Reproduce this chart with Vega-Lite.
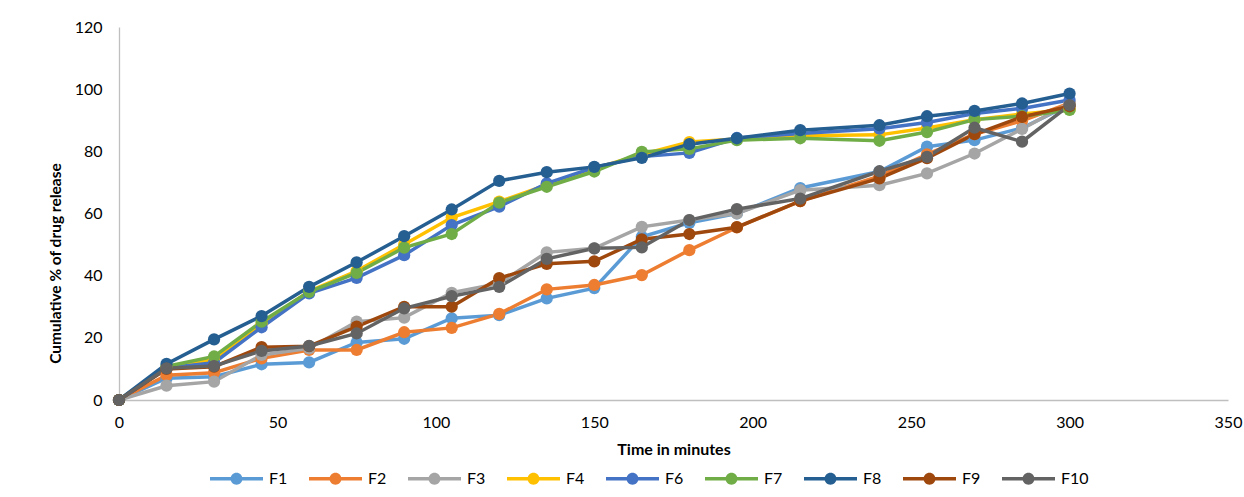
{
  "$schema": "https://vega.github.io/schema/vega-lite/v6.json",
  "autosize": {"type": "none"},
  "width": 1109,
  "height": 373,
  "padding": {"left": 119, "top": 27, "right": 16, "bottom": 97},
  "background": "white",
  "config": {
    "view": {"stroke": null},
    "font": "Lato",
    "axis": {"grid": false, "ticks": false, "labelFlush": false, "domainColor": "#BFBFBF", "domainWidth": 1.3, "labelFont": "Lato", "labelFontSize": 16, "labelColor": "#000000", "titleFont": "Lato", "titleColor": "#000000", "titleFontWeight": "bold"}
  },
  "datasets": {
    "release": [
      {"f":"F1","t":0,"v":0},{"f":"F1","t":15,"v":7},{"f":"F1","t":30,"v":7.5},{"f":"F1","t":45,"v":11.5},{"f":"F1","t":60,"v":12.1},{"f":"F1","t":75,"v":18.5},{"f":"F1","t":90,"v":19.7},{"f":"F1","t":105,"v":26.3},{"f":"F1","t":120,"v":27.3},{"f":"F1","t":135,"v":32.7},{"f":"F1","t":150,"v":36},{"f":"F1","t":165,"v":52.5},{"f":"F1","t":180,"v":57},{"f":"F1","t":195,"v":60},{"f":"F1","t":215,"v":68.2},{"f":"F1","t":240,"v":73.5},{"f":"F1","t":255,"v":81.5},{"f":"F1","t":270,"v":83.6},{"f":"F1","t":285,"v":87.5},{"f":"F1","t":300,"v":95},
      {"f":"F2","t":0,"v":0},{"f":"F2","t":15,"v":8},{"f":"F2","t":30,"v":8.8},{"f":"F2","t":45,"v":13.4},{"f":"F2","t":60,"v":16.1},{"f":"F2","t":75,"v":16.1},{"f":"F2","t":90,"v":21.8},{"f":"F2","t":105,"v":23.2},{"f":"F2","t":120,"v":27.7},{"f":"F2","t":135,"v":35.6},{"f":"F2","t":150,"v":37},{"f":"F2","t":165,"v":40.2},{"f":"F2","t":180,"v":48.2},{"f":"F2","t":195,"v":55.5},{"f":"F2","t":215,"v":64},{"f":"F2","t":240,"v":72},{"f":"F2","t":255,"v":79},{"f":"F2","t":270,"v":85.5},{"f":"F2","t":285,"v":89.8},{"f":"F2","t":300,"v":95.5},
      {"f":"F3","t":0,"v":0},{"f":"F3","t":15,"v":4.6},{"f":"F3","t":30,"v":5.9},{"f":"F3","t":45,"v":14.5},{"f":"F3","t":60,"v":16.6},{"f":"F3","t":75,"v":25.2},{"f":"F3","t":90,"v":26.5},{"f":"F3","t":105,"v":34.5},{"f":"F3","t":120,"v":37.5},{"f":"F3","t":135,"v":47.5},{"f":"F3","t":150,"v":48.8},{"f":"F3","t":165,"v":55.7},{"f":"F3","t":180,"v":57.9},{"f":"F3","t":195,"v":60},{"f":"F3","t":215,"v":67.5},{"f":"F3","t":240,"v":69.1},{"f":"F3","t":255,"v":72.9},{"f":"F3","t":270,"v":79.3},{"f":"F3","t":285,"v":87.2},{"f":"F3","t":300,"v":95.5},
      {"f":"F4","t":0,"v":0},{"f":"F4","t":15,"v":10.5},{"f":"F4","t":30,"v":13},{"f":"F4","t":45,"v":24.5},{"f":"F4","t":60,"v":35},{"f":"F4","t":75,"v":41.5},{"f":"F4","t":90,"v":50},{"f":"F4","t":105,"v":58.7},{"f":"F4","t":120,"v":63.8},{"f":"F4","t":135,"v":69.2},{"f":"F4","t":150,"v":74.5},{"f":"F4","t":165,"v":79},{"f":"F4","t":180,"v":83},{"f":"F4","t":195,"v":84},{"f":"F4","t":215,"v":85},{"f":"F4","t":240,"v":85.3},{"f":"F4","t":255,"v":87.5},{"f":"F4","t":270,"v":90.2},{"f":"F4","t":285,"v":92},{"f":"F4","t":300,"v":93.5},
      {"f":"F6","t":0,"v":0},{"f":"F6","t":15,"v":10.3},{"f":"F6","t":30,"v":12},{"f":"F6","t":45,"v":23.4},{"f":"F6","t":60,"v":34.3},{"f":"F6","t":75,"v":39.3},{"f":"F6","t":90,"v":46.6},{"f":"F6","t":105,"v":56.3},{"f":"F6","t":120,"v":62.2},{"f":"F6","t":135,"v":69.7},{"f":"F6","t":150,"v":74.8},{"f":"F6","t":165,"v":78.3},{"f":"F6","t":180,"v":79.5},{"f":"F6","t":195,"v":84.3},{"f":"F6","t":215,"v":85.7},{"f":"F6","t":240,"v":87.3},{"f":"F6","t":255,"v":89.3},{"f":"F6","t":270,"v":92.2},{"f":"F6","t":285,"v":93.8},{"f":"F6","t":300,"v":96.5},
      {"f":"F7","t":0,"v":0},{"f":"F7","t":15,"v":10.8},{"f":"F7","t":30,"v":14},{"f":"F7","t":45,"v":25.2},{"f":"F7","t":60,"v":34.8},{"f":"F7","t":75,"v":40.9},{"f":"F7","t":90,"v":49},{"f":"F7","t":105,"v":53.4},{"f":"F7","t":120,"v":63.5},{"f":"F7","t":135,"v":68.6},{"f":"F7","t":150,"v":73.5},{"f":"F7","t":165,"v":79.8},{"f":"F7","t":180,"v":80.8},{"f":"F7","t":195,"v":83.6},{"f":"F7","t":215,"v":84.2},{"f":"F7","t":240,"v":83.4},{"f":"F7","t":255,"v":86.2},{"f":"F7","t":270,"v":90.2},{"f":"F7","t":285,"v":91.3},{"f":"F7","t":300,"v":93.3},
      {"f":"F8","t":0,"v":0},{"f":"F8","t":15,"v":11.6},{"f":"F8","t":30,"v":19.5},{"f":"F8","t":45,"v":27},{"f":"F8","t":60,"v":36.4},{"f":"F8","t":75,"v":44.3},{"f":"F8","t":90,"v":52.7},{"f":"F8","t":105,"v":61.3},{"f":"F8","t":120,"v":70.5},{"f":"F8","t":135,"v":73.3},{"f":"F8","t":150,"v":75},{"f":"F8","t":165,"v":77.9},{"f":"F8","t":180,"v":82.3},{"f":"F8","t":195,"v":84.2},{"f":"F8","t":215,"v":86.8},{"f":"F8","t":240,"v":88.4},{"f":"F8","t":255,"v":91.3},{"f":"F8","t":270,"v":93},{"f":"F8","t":285,"v":95.4},{"f":"F8","t":300,"v":98.6},
      {"f":"F9","t":0,"v":0},{"f":"F9","t":15,"v":10},{"f":"F9","t":30,"v":10.7},{"f":"F9","t":45,"v":17},{"f":"F9","t":60,"v":17.3},{"f":"F9","t":75,"v":23.6},{"f":"F9","t":90,"v":30},{"f":"F9","t":105,"v":30},{"f":"F9","t":120,"v":39.2},{"f":"F9","t":135,"v":43.8},{"f":"F9","t":150,"v":44.6},{"f":"F9","t":165,"v":51.7},{"f":"F9","t":180,"v":53.4},{"f":"F9","t":195,"v":55.6},{"f":"F9","t":215,"v":64},{"f":"F9","t":240,"v":71.3},{"f":"F9","t":255,"v":77.8},{"f":"F9","t":270,"v":85.5},{"f":"F9","t":285,"v":91.1},{"f":"F9","t":300,"v":94.5},
      {"f":"F10","t":0,"v":0},{"f":"F10","t":15,"v":10.2},{"f":"F10","t":30,"v":10.9},{"f":"F10","t":45,"v":15.8},{"f":"F10","t":60,"v":17.4},{"f":"F10","t":75,"v":21.4},{"f":"F10","t":90,"v":29.5},{"f":"F10","t":105,"v":33.4},{"f":"F10","t":120,"v":36.4},{"f":"F10","t":135,"v":45.4},{"f":"F10","t":150,"v":48.8},{"f":"F10","t":165,"v":49.1},{"f":"F10","t":180,"v":57.9},{"f":"F10","t":195,"v":61.4},{"f":"F10","t":215,"v":64.8},{"f":"F10","t":240,"v":73.6},{"f":"F10","t":255,"v":78.2},{"f":"F10","t":270,"v":87.6},{"f":"F10","t":285,"v":83.1},{"f":"F10","t":300,"v":94.9}
    ]
  },
  "layer": [
    {
      "data": {"name": "release"},
      "mark": {"type": "line", "strokeWidth": 3.5},
      "encoding": {
        "x": {"field": "t", "type": "quantitative", "scale": {"domain": [0, 350], "nice": false}, "axis": {"values": [0,50,100,150,200,250,300,350], "title": "Time in minutes", "titleFontSize": 16, "labelPadding": 14, "titlePadding": 11}},
        "y": {"field": "v", "type": "quantitative", "scale": {"domain": [0, 120], "nice": false}, "axis": {"values": [0,20,40,60,80,100,120], "title": "Cumulative % of drug release", "titleFontSize": 15.5, "labelPadding": 17, "titleX": -64, "titleY": 236, "titleAnchor": "middle", "titleBaseline": "middle"}},
        "color": {"field": "f", "type": "nominal", "sort": ["F1","F2","F3","F4","F6","F7","F8","F9","F10"],
          "scale": {"domain": ["F1","F2","F3","F4","F6","F7","F8","F9","F10"], "range": ["#5B9BD5","#ED7D31","#A5A5A5","#FFC000","#4472C4","#70AD47","#255E91","#9E480E","#636363"]},
          "legend": {"orient": "none", "legendX": 91, "legendY": 425, "direction": "horizontal", "columns": 9, "title": null, "padding": 0,
            "symbolType": "M-1,-0.066L1,-0.066L1,0.066L-1,0.066Z M-0.226,0A0.226,0.226 0 1 1 0.226,0A0.226,0.226 0 1 1 -0.226,0Z",
            "symbolSize": 2809, "symbolStrokeWidth": 0, "labelFont": "Lato", "labelFontSize": 16, "labelColor": "#000000", "labelOffset": 6, "columnPadding": 21, "gridAlign": "each",
            "encode": {"symbols": {"update": {"fill": {"scale": "color", "field": "value"}, "opacity": {"value": 1}, "strokeWidth": {"value": 0}}}}}
        }
      }
    },
    {
      "data": {"name": "release"},
      "mark": {"type": "point", "filled": true, "size": 150, "opacity": 1},
      "encoding": {
        "x": {"field": "t", "type": "quantitative"},
        "y": {"field": "v", "type": "quantitative"},
        "color": {"field": "f", "type": "nominal", "sort": ["F1","F2","F3","F4","F6","F7","F8","F9","F10"]}
      }
    },
    {
      "mark": {"type": "text", "text": "In vitro", "font": "Liberation Sans", "fontSize": 20, "fontStyle": "italic", "align": "right", "baseline": "middle", "color": "#000000"},
      "encoding": {"x": {"datum": 129.7}, "y": {"datum": 112.9}}
    },
    {
      "mark": {"type": "text", "text": "Cumulative % drug release", "font": "Liberation Sans", "fontSize": 20, "align": "left", "baseline": "middle", "color": "#000000"},
      "encoding": {"x": {"datum": 131.6}, "y": {"datum": 112.9}}
    }
  ]
}
